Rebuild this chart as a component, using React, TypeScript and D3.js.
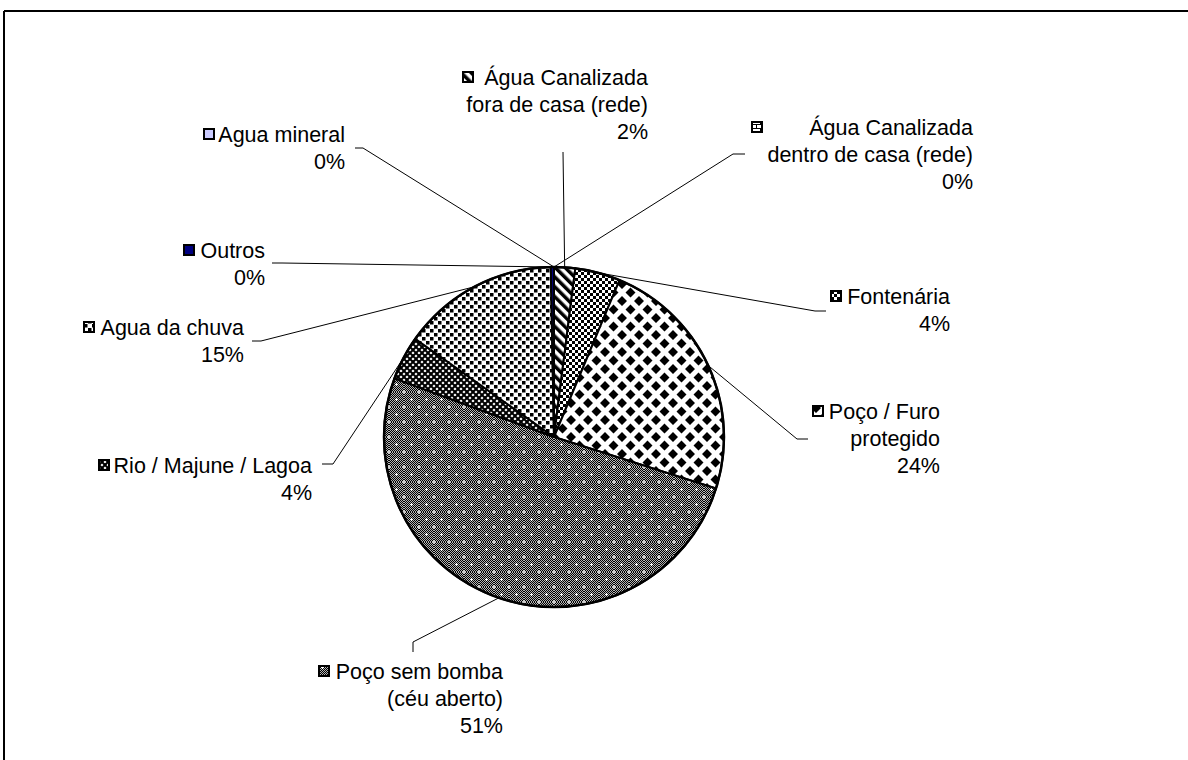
import React from 'react';
import * as d3 from 'd3';

// fontes de água (ordem das fatias, a partir das 12h no sentido horário)
const categories = [
  'Água Canalizada\ndentro de casa (rede)',
  'Água Canalizada\nfora de casa (rede)',
  'Fontenária',
  'Poço / Furo\nprotegido',
  'Poço sem bomba\n(céu aberto)',
  'Rio / Majune / Lagoa',
  'Agua da chuva',
  'Outros',
  'Agua mineral'
];
const values = [0, 2, 4.3, 23.6, 50.7, 4.2, 14.9, 0.3, 0];
const fills = [
  'url(#pBrick)',
  'url(#pStripe)',
  'url(#pCheck)',
  'url(#pDiamond)',
  'url(#pGrey)',
  'url(#pCross)',
  'url(#pDots)',
  '#000080',
  '#ccccff'
];

// posição dos rótulos (borda direita, centro da 1a linha, x do marcador, cotovelo, fim da linha)
const labelLayout = [
  { right: 973, y: 127, mx: 751, elbow: [733, 154], end: [745, 154] },
  { right: 648, y: 77, mx: 462, elbow: null, end: [563, 152] },
  { right: 950, y: 296, mx: 830, elbow: [815, 311], end: [826, 311] },
  { right: 940, y: 411, mx: 812, elbow: [797, 439], end: [808, 439] },
  { right: 503, y: 671, mx: 318, elbow: [413, 642], end: [413, 652] },
  { right: 312, y: 465, mx: 98, elbow: [333, 464], end: [322, 464] },
  { right: 244, y: 327, mx: 83, elbow: [261, 341], end: [252, 341] },
  { right: 265, y: 250, mx: 183, elbow: [282, 263], end: [272, 263] },
  { right: 345, y: 134, mx: 203, elbow: [363, 148], end: [355, 148] }
];

const W = 1188, H = 760;
const cx = 554, cy = 437, R = 170;
const lineH = 27;
const font = '"Liberation Sans", Arial, sans-serif';

export default function App() {
  const pie = d3.pie<number>().sort(null).value(d => d);
  const arcs = pie(values);
  const arc = d3.arc<d3.PieArcDatum<number>>().innerRadius(0).outerRadius(R);
  const edge = d3.arc<d3.PieArcDatum<number>>().innerRadius(R).outerRadius(R);

  return (
    <svg width={W} height={H} style={{ position: 'absolute', left: 0, top: 0, background: '#fff' }}>
      <defs>
        <pattern id="pFine" width="2" height="2" patternUnits="userSpaceOnUse">
          <rect width="2" height="2" fill="#b4b4b4" />
          <rect width="1" height="1" fill="#000" />
          <rect x="1" y="1" width="1" height="1" fill="#000" />
        </pattern>
        <pattern id="pBrick" width="8" height="8" patternUnits="userSpaceOnUse">
          <rect width="8" height="8" fill="#fff" />
          <path d="M0,0.5H8M0.5,0V4M0,4.5H8M4.5,4V8" stroke="#000" strokeWidth="1" />
        </pattern>
        <pattern id="pStripe" width="7" height="7" patternUnits="userSpaceOnUse" patternTransform="rotate(-45)">
          <rect width="7" height="7" fill="#fff" />
          <rect width="3.5" height="7" fill="#000" />
        </pattern>
        <pattern id="pCheck" width="6" height="6" patternUnits="userSpaceOnUse">
          <rect width="6" height="6" fill="#fff" />
          <rect width="3" height="3" fill="#000" />
          <rect x="3" y="3" width="3" height="3" fill="#000" />
        </pattern>
        <pattern id="pDiamond" width="17" height="17" patternUnits="userSpaceOnUse">
          <rect width="17" height="17" fill="#fff" />
          <path d="M8.5,3.5L13.5,8.5L8.5,13.5L3.5,8.5Z M0,-5L5,0L0,5L-5,0Z M17,-5L22,0L17,5L12,0Z M0,12L5,17L0,22L-5,17Z M17,12L22,17L17,22L12,17Z" fill="#000" />
        </pattern>
        <pattern id="pGrey" width="15" height="15" patternUnits="userSpaceOnUse">
          <rect width="15" height="15" fill="url(#pFine)" />
          <path d="M7.5,6V9M6,7.5H9M0,-1.5V1.5M-1.5,0H1.5M15,-1.5V1.5M13.5,0H16.5M0,13.5V16.5M-1.5,15H1.5M15,13.5V16.5M13.5,15H16.5" stroke="#fff" strokeWidth="1.2" />
        </pattern>
        <pattern id="pCross" width="6" height="6" patternUnits="userSpaceOnUse">
          <rect width="6" height="6" fill="#fff" />
          <path d="M-1,-1L7,7M-1,7L7,-1M-4,2L2,-4M4,8L8,4M-4,4L2,10M4,-2L8,2" stroke="#000" strokeWidth="2" />
        </pattern>
        <pattern id="pDots" width="8" height="8" patternUnits="userSpaceOnUse">
          <rect width="8" height="8" fill="#fff" />
          <rect x="0" y="0" width="3.5" height="3.5" fill="#000" />
          <rect x="4" y="4" width="3.5" height="3.5" fill="#000" />
        </pattern>
      </defs>

      {/* moldura */}
      <line x1={4} y1={11} x2={W} y2={11} stroke="#000" strokeWidth={2} />
      <line x1={4} y1={11} x2={4} y2={H} stroke="#000" strokeWidth={2} />

      <g transform={`translate(${cx},${cy})`}>
        {arcs.map((a, i) => (
          <path key={i} d={arc(a) || ''} fill={fills[i]} stroke="#000" strokeWidth={2} strokeLinejoin="round" />
        ))}
        <circle r={R} fill="none" stroke="#000" strokeWidth={2.5} />
      </g>

      {arcs.map((a, i) => {
        const L = labelLayout[i];
        const [px, py] = edge.centroid(a);
        const pts: number[][] = [[cx + px, cy + py]];
        if (L.elbow) pts.push(L.elbow);
        pts.push(L.end);
        const lines = categories[i].split('\n').concat([Math.round(values[i]) + '%']);
        return (
          <g key={i}>
            <polyline points={pts.map(p => p.join(',')).join(' ')} fill="none" stroke="#000" strokeWidth={1} />
            <rect x={L.mx + 1} y={L.y - 5} width={10} height={10} fill={fills[i]} stroke="#000" strokeWidth={2} />
            <text fontFamily={font} fontSize={21.5} fill="#000" textAnchor="end">
              {lines.map((t, j) => (
                <tspan key={j} x={L.right} y={L.y + 8 + j * lineH}>{t}</tspan>
              ))}
            </text>
          </g>
        );
      })}
    </svg>
  );
}
